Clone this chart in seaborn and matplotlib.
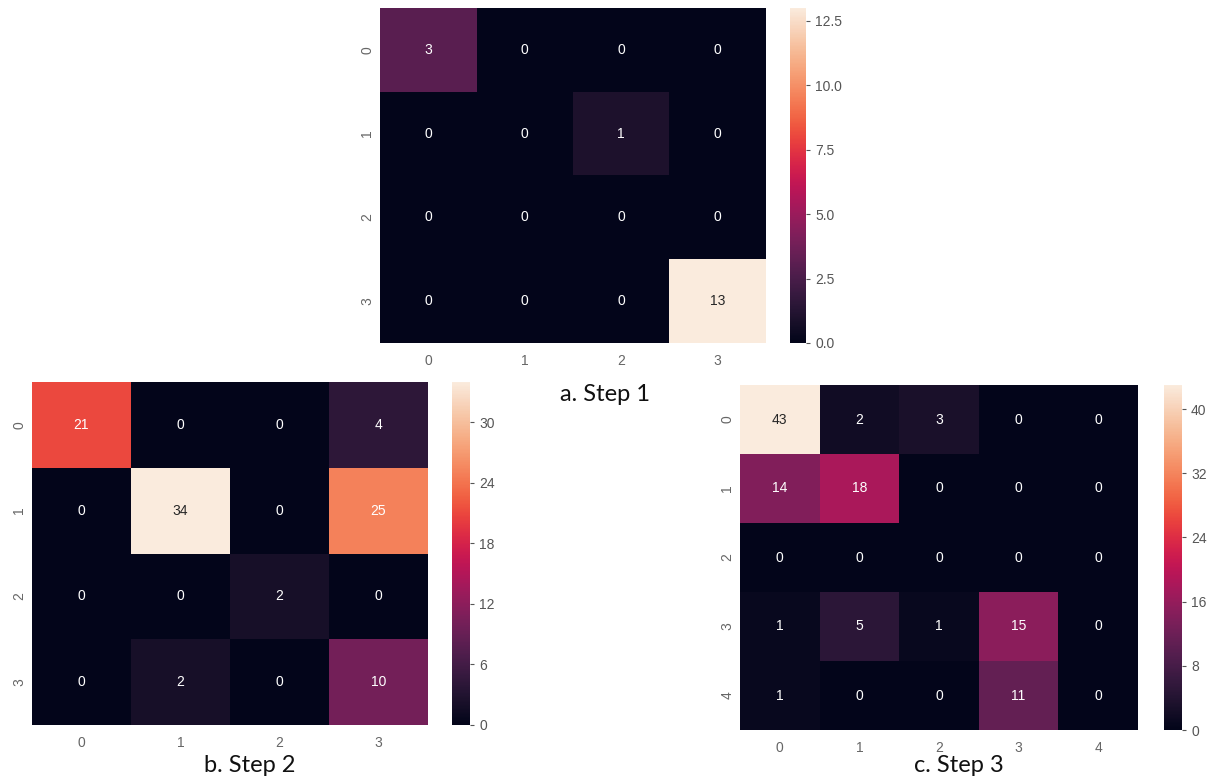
import numpy as np
import matplotlib
matplotlib.use("Agg")
import matplotlib.pyplot as plt
import seaborn as sns

sns.set_theme(style="white")
plt.rcParams['font.family'] = ['Liberation Sans', 'DejaVu Sans']

# Data
labels_a = ["0", "1", "2", "3"]
step1 = [[3, 0, 0, 0],
         [0, 0, 1, 0],
         [0, 0, 0, 0],
         [0, 0, 0, 13]]
labels_b = ["0", "1", "2", "3"]
step2 = [[21, 0, 0, 4],
         [0, 34, 0, 25],
         [0, 0, 2, 0],
         [0, 2, 0, 10]]
labels_c = ["0", "1", "2", "3", "4"]
step3 = [[43, 2, 3, 0, 0],
         [14, 18, 0, 0, 0],
         [0, 0, 0, 0, 0],
         [1, 5, 1, 15, 0],
         [1, 0, 0, 11, 0]]
captions = ["a. Step 1", "b. Step 2", "c. Step 3"]
cbar_ticks_a = [0.0, 2.5, 5.0, 7.5, 10.0, 12.5]
cbar_ticks_b = [0, 6, 12, 18, 24, 30]
cbar_ticks_c = [0, 8, 16, 24, 32, 40]

W, H = 1216, 781
fig = plt.figure(figsize=(W / 100, H / 100), dpi=100)


def box(x0, y0, x1, y1):
    return [x0 / W, 1 - y1 / H, (x1 - x0) / W, (y1 - y0) / H]


def draw(data, labels, ax_box, cb_box, ticks, fmt_ticks):
    ax = fig.add_axes(box(*ax_box))
    cax = fig.add_axes(box(*cb_box))
    sns.heatmap(np.array(data), annot=True, fmt="d", cmap="rocket",
                xticklabels=labels, yticklabels=labels, ax=ax, cbar_ax=cax,
                annot_kws={"fontsize": 10})
    ax.tick_params(length=0, labelsize=10, colors="#666666")
    ax.tick_params(axis="y", pad=4)
    ax.tick_params(axis="x", pad=8)
    ax.set_yticklabels(labels, rotation=90, va="center")
    ax.set_xticklabels(labels, rotation=0)
    cax.set_yticks(ticks)
    cax.set_yticklabels([fmt_ticks(t) for t in ticks])
    cax.tick_params(length=3, width=0.8, labelsize=10, colors="#555555",
                    right=True)
    for s in cax.spines.values():
        s.set_visible(False)
    return ax


draw(step1, labels_a, (380, 8, 766, 343), (790, 8, 806, 343),
     cbar_ticks_a, lambda t: f"{t:.1f}")
draw(step2, labels_b, (32, 382, 428, 725), (452, 382, 470, 725),
     cbar_ticks_b, lambda t: f"{t:d}")
draw(step3, labels_c, (740, 385, 1138, 730), (1164, 385, 1182, 730),
     cbar_ticks_c, lambda t: f"{t:d}")

cap_font = ['Lato', 'DejaVu Sans']
fig.text(605 / W, 1 - 394 / H, captions[0], ha="center", va="center",
         fontsize=17, color="#111111", family=cap_font)
fig.text(250 / W, 1 - 765 / H, captions[1], ha="center", va="center",
         fontsize=17, color="#111111", family=cap_font)
fig.text(959 / W, 1 - 765 / H, captions[2], ha="center", va="center",
         fontsize=17, color="#111111", family=cap_font)

fig.savefig("out.png", dpi=100)
